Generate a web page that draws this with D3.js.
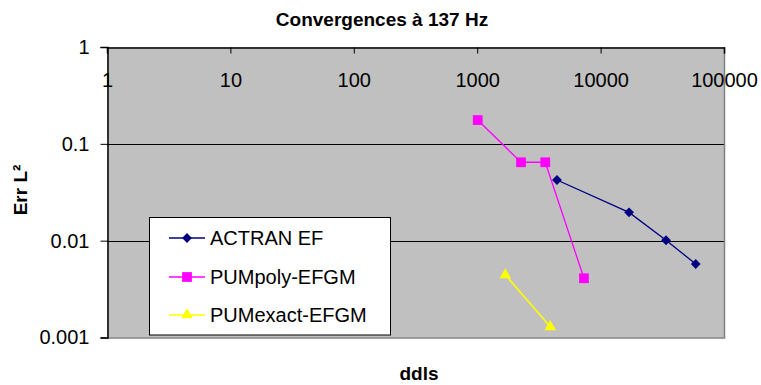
<!DOCTYPE html>
<html>
<head>
<meta charset="utf-8">
<script src="https://cdn.jsdelivr.net/npm/d3@7"></script>
<style>
  body { margin: 0; background: #ffffff; }
  text { font-family: "Liberation Sans", Arial, sans-serif; }
</style>
</head>
<body>
<div id="chart"></div>
<script>
/* Chart data. */
let seriesNames = ["ACTRAN EF", "PUMpoly-EFGM", "PUMexact-EFGM"];
let actranDdls = [4430, 17000, 33900, 59000];
let actranErr = [0.0423, 0.0196, 0.0101, 0.00574];
let polyDdls = [1010, 2265, 3560, 7330];
let polyErr = [0.176, 0.0645, 0.0645, 0.00409];
let exactDdls = [1690, 3910];
let exactErr = [0.00442, 0.00129];

let xTicks = [1, 10, 100, 1000, 10000, 100000];
let xTickLabels = ["1", "10", "100", "1000", "10000", "100000"];
let yTicks = [0.001, 0.01, 0.1, 1];
let yTickLabels = ["0.001", "0.01", "0.1", "1"];
let gridValues = [0.1, 0.01];

let titleText = "Convergences à 137 Hz";
let xTitle = "ddls";
let yTitle = "Err L²";

/* Physical properties of the drawing. */
let width = 761, height = 385;
let plot = {left: 107, right: 724, top: 47, bottom: 337.5};

let xscale = d3.scaleLog()
    .domain([1, 100000])
    .range([plot.left, plot.right]);
let yscale = d3.scaleLog()
    .domain([0.001, 1])
    .range([plot.bottom, plot.top]);

let svg = d3.select("#chart").append("svg")
    .attr("width", width)
    .attr("height", height);

/* Grey plot area. */
svg.append("rect")
    .attr("x", plot.left)
    .attr("y", plot.top)
    .attr("width", plot.right - plot.left)
    .attr("height", plot.bottom - plot.top)
    .attr("fill", "#c0c0c0");

/* Horizontal gridlines. */
svg.selectAll("line.grid")
    .data(gridValues)
    .enter()
    .append("line")
        .attr("class", "grid")
        .attr("x1", plot.left)
        .attr("x2", plot.right)
        .attr("y1", d => Math.round(yscale(d)) + 0.5)
        .attr("y2", d => Math.round(yscale(d)) + 0.5)
        .attr("stroke", "#000")
        .attr("stroke-width", 1);

/* Right and bottom border of the plot area. */
svg.append("path")
    .attr("d", "M" + (plot.right + 0.5) + "," + plot.top +
               "V" + (plot.bottom + 0.5) + "H" + plot.left)
    .attr("fill", "none")
    .attr("stroke", "#808080")
    .attr("stroke-width", 1.5);

/* The x axis crosses at the top of the plot (y = 1). */
let xaxis = d3.axisBottom(xscale)
    .tickValues(xTicks)
    .tickFormat((d, i) => xTickLabels[i])
    .tickSizeOuter(0)
    .tickSize(6)
    .tickPadding(19);
let gx = svg.append("g")
    .attr("transform", "translate(0," + (plot.top + 0.5) + ")")
    .call(xaxis);

let yaxis = d3.axisLeft(yscale)
    .tickValues(yTicks)
    .tickFormat((d, i) => yTickLabels[i])
    .tickSizeOuter(0)
    .tickSize(7)
    .tickPadding(11);
let gy = svg.append("g")
    .attr("transform", "translate(" + (plot.left + 0.5) + ",0)")
    .call(yaxis);

[gx, gy].forEach(g => {
    g.select(".domain").attr("stroke", "#000").attr("stroke-width", 1.5);
    g.selectAll(".tick line").attr("stroke", "#000");
    g.selectAll(".tick text")
        .attr("fill", "#000")
        .style("font-size", "20px")
        .style("font-family", "'Liberation Sans', Arial, sans-serif");
});

/* Series: a line plus a marker on each point. */
let series = [
    {name: seriesNames[0], x: actranDdls, y: actranErr, color: "#000080",
     symbol: d3.symbolSquare, size: 48, rotate: 45, width: 1.3},
    {name: seriesNames[1], x: polyDdls, y: polyErr, color: "#ff00ff",
     symbol: d3.symbolSquare, size: 95, rotate: 0, width: 1.3},
    {name: seriesNames[2], x: exactDdls, y: exactErr, color: "#ffff00",
     symbol: d3.symbolTriangle, size: 58, rotate: 0, width: 1.6}
];

let line = d3.line()
    .x(d => xscale(d[0]))
    .y(d => yscale(d[1]));

series.forEach(s => {
    let pts = d3.zip(s.x, s.y);
    svg.append("path")
        .attr("d", line(pts))
        .attr("fill", "none")
        .attr("stroke", s.color)
        .attr("stroke-width", s.width);
    svg.selectAll(null)
        .data(pts)
        .enter()
        .append("path")
            .attr("d", d3.symbol().type(s.symbol).size(s.size))
            .attr("transform", d => "translate(" + xscale(d[0]) + "," +
                  yscale(d[1]) + ") rotate(" + s.rotate + ")")
            .attr("fill", s.color);
});

/* Legend box. */
let legend = {x: 149.5, y: 217.5, w: 241, h: 117.5, rowY: [238, 277, 315]};
svg.append("rect")
    .attr("x", legend.x)
    .attr("y", legend.y)
    .attr("width", legend.w)
    .attr("height", legend.h)
    .attr("fill", "#ffffff")
    .attr("stroke", "#000")
    .attr("stroke-width", 1);

series.forEach((s, i) => {
    let ly = legend.rowY[i];
    svg.append("line")
        .attr("x1", 169)
        .attr("x2", 205)
        .attr("y1", ly)
        .attr("y2", ly)
        .attr("stroke", s.color)
        .attr("stroke-width", s.width);
    svg.append("path")
        .attr("d", d3.symbol().type(s.symbol).size(s.size))
        .attr("transform", "translate(187," + ly + ") rotate(" + s.rotate + ")")
        .attr("fill", s.color);
    svg.append("text")
        .attr("x", 210)
        .attr("y", ly)
        .attr("dy", "0.35em")
        .style("font-size", "20px")
        .text(s.name);
});

/* Titles. */
svg.append("text")
    .attr("x", 382)
    .attr("y", 26)
    .attr("text-anchor", "middle")
    .style("font-size", "19px")
    .style("font-weight", "bold")
    .text(titleText);

svg.append("text")
    .attr("x", 419)
    .attr("y", 380)
    .attr("text-anchor", "middle")
    .style("font-size", "19px")
    .style("font-weight", "bold")
    .text(xTitle);

svg.append("text")
    .attr("transform", "translate(27,190) rotate(-90)")
    .attr("text-anchor", "middle")
    .style("font-size", "19px")
    .style("font-weight", "bold")
    .text(yTitle);
</script>
</body>
</html>
